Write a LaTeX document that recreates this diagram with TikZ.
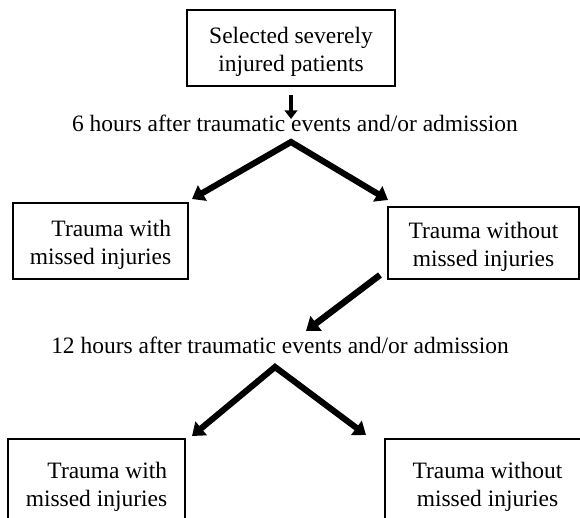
\documentclass[tikz,border=0pt]{standalone}
\usepackage{fontspec}
\setmainfont{Liberation Serif}
\usetikzlibrary{arrows.meta}
\newcommand\boxtxt[2]{\raisebox{-3pt}[\height][\depth]{\begin{tabular}{@{}#1@{}}#2\end{tabular}}}
\begin{document}
\begin{tikzpicture}[x=0.75pt,y=-0.75pt,
  txt/.style={font=\fontsize{17.6}{21}\selectfont},
  box/.style={txt, draw, line width=1.3pt, inner sep=0pt},
  lbl/.style={txt, inner sep=0pt},
  dn/.style={line width=3.2pt, -{Triangle[length=6.5pt,width=9.5pt]}},
  chev/.style={line width=4.6pt, line join=miter, {Triangle[length=9pt,width=13pt]}-{Triangle[length=9pt,width=13pt]}},
  diag/.style={line width=4.8pt, -{Triangle[length=9.5pt,width=13.5pt]}}
]
\useasboundingbox (0,0) rectangle (580,517);
\fill[white] (0,0) rectangle (580,517);
\clip (0,0) rectangle (580,517);

\node[box, minimum width=156pt, minimum height=57pt] (top) at (291,48) {\boxtxt{c}{Selected severely\\injured patients}};
\node[lbl, anchor=base] (t6) at (295,131) {6 hours after traumatic events and/or admission};
\node[box, minimum width=131.25pt, minimum height=57pt] (ml) at (100.5,241) {\boxtxt{r}{Trauma with\\missed injuries}};
\node[box, minimum width=143.25pt, minimum height=54pt] (mr) at (483.5,243) {\boxtxt{c}{Trauma without\\missed injuries}};
\node[lbl, anchor=base] (t12) at (280,353) {12 hours after traumatic events and/or admission};
\node[box, minimum width=132.75pt, minimum height=66pt] (bl) at (96.5,483) {\boxtxt{r}{Trauma with\\missed injuries}};
\node[box, minimum width=153.75pt, minimum height=66pt] (br) at (487.5,483) {\boxtxt{c}{Trauma without\\missed injuries}};

\coordinate (d0) at (291,95);
\coordinate (d1) at (291,119);
\coordinate (apex1) at (291,142);
\coordinate (l1) at (192,199);
\coordinate (r1) at (388,200);
\coordinate (g0) at (380,275);
\coordinate (g1) at (306,331);
\coordinate (apex2) at (275,367);
\coordinate (l2) at (192,436);
\coordinate (r2) at (366,435);

\draw[dn] (d0) -- (d1);
\draw[chev] (l1) -- (apex1) -- (r1);
\draw[diag] (g0) -- (g1);
\draw[chev] (l2) -- (apex2) -- (r2);
\end{tikzpicture}
\end{document}
